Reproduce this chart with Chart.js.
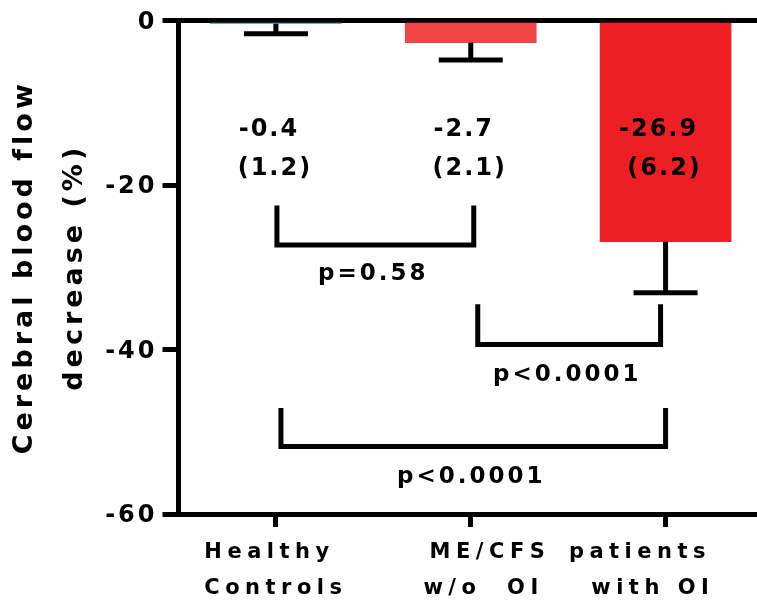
<!DOCTYPE html>
<html><head><meta charset="utf-8">
<script src="https://cdn.jsdelivr.net/npm/chart.js@4.4.1/dist/chart.umd.min.js"></script>
<style>
html,body{margin:0;padding:0;background:#fff;overflow:hidden;width:757px;height:610px}
#wrap{width:757px;height:610px;overflow:hidden;position:relative}
canvas{display:block}
</style>
</head><body><div id="wrap"><canvas id="c" width="770" height="610" style="width:770px;height:610px"></canvas></div>
<script>
// ---- data ----
const categories = ['Healthy Controls', 'ME/CFS patients w/o OI', 'ME/CFS patients with OI'];
const tickLabels = [['Healthy ', 'Controls'], ['   ME/CFS', '  w/o  OI'], ['patients    ', 'with OI  ']];
const means = [-0.4, -2.7, -26.9];
const sds = [1.2, 2.1, 6.2];
const barColors = ['#8497d2', '#ef4545', '#ee1e25'];
const yTicks = [0, -20, -40, -60];
const comparisons = [[0, 1], [1, 2], [0, 2]];
const pLabels = ['p=0.58', 'p<0.0001', 'p<0.0001'];

const FONT = '"DejaVu Sans", "Liberation Sans", Arial, sans-serif';

function wrapDraw(chart, scale, method, spacing) {
  const key = '_ls_' + method;
  if (scale && !scale[key]) {
    const orig = scale[method].bind(scale);
    scale[method] = function (area) {
      const ctx = chart.ctx;
      ctx.save();
      ctx.letterSpacing = spacing;
      orig(area);
      ctx.restore();
    };
    scale[key] = true;
  }
}
function patchScales(c) {
  wrapDraw(c, c.scales.x, 'drawLabels', '5.5px');
  wrapDraw(c, c.scales.y, 'drawLabels', '3px');
  wrapDraw(c, c.scales.y, 'drawTitle', '4px');
}

const spacingPlugin = {
  id: 'spacing',
  afterInit(c) { c.ctx.letterSpacing = '3px'; },
  beforeUpdate(c) { c.ctx.letterSpacing = '3px'; },
  afterLayout(c) { patchScales(c); },
  beforeDraw(c) { c.ctx.letterSpacing = '3px'; patchScales(c); }
};

const errorBarPlugin = {
  id: 'errorBars',
  afterDatasetsDraw(chart) {
    const ctx = chart.ctx, xs = chart.scales.x, ys = chart.scales.y;
    ctx.save();
    ctx.strokeStyle = '#000';
    ctx.lineWidth = 5;
    ctx.lineCap = 'butt';
    means.forEach((m, i) => {
      const x = xs.getPixelForValue(i);
      const y0 = ys.getPixelForValue(m);
      const y1 = ys.getPixelForValue(m - sds[i]);
      ctx.beginPath();
      ctx.moveTo(x, y0); ctx.lineTo(x, y1);
      ctx.moveTo(x - 32, y1); ctx.lineTo(x + 32, y1);
      ctx.stroke();
    });
    ctx.restore();
  }
};

const annotationPlugin = {
  id: 'annotations',
  afterDraw(chart) {
    const ctx = chart.ctx, xs = chart.scales.x, ys = chart.scales.y;
    ctx.save();
    ctx.fillStyle = '#000';
    ctx.textAlign = 'center';
    ctx.textBaseline = 'alphabetic';
    ctx.font = 'bold 24px ' + FONT;
    ctx.letterSpacing = '2px';
    means.forEach((m, i) => {
      const x = xs.getPixelForValue(i);
      ctx.fillText(m.toFixed(1), x - 7, ys.getPixelForValue(-14.1));
      ctx.fillText('(' + sds[i].toFixed(1) + ')', x - 1, ys.getPixelForValue(-18.8));
    });
    // significance brackets: [top, bottom, text baseline] in axis units, plus small pixel insets
    const levels = [[-22.5, -27.3, -31.6], [-34.5, -39.4, -43.8], [-47.1, -51.8, -56.2]];
    const insets = [[1, 3], [7, -5], [5, 0]];
    ctx.strokeStyle = '#000';
    ctx.lineWidth = 5;
    ctx.lineJoin = 'miter';
    ctx.font = 'bold 23px ' + FONT;
    ctx.letterSpacing = '3px';
    comparisons.forEach((cmp, k) => {
      const xa = xs.getPixelForValue(cmp[0]) + insets[k][0];
      const xb = xs.getPixelForValue(cmp[1]) + insets[k][1];
      const yt = ys.getPixelForValue(levels[k][0]);
      const yb = ys.getPixelForValue(levels[k][1]);
      ctx.beginPath();
      ctx.moveTo(xa, yt); ctx.lineTo(xa, yb); ctx.lineTo(xb, yb); ctx.lineTo(xb, yt);
      ctx.stroke();
      ctx.fillText(pLabels[k], (xa + xb) / 2 - 2, ys.getPixelForValue(levels[k][2]));
    });
    ctx.restore();
  }
};

new Chart(document.getElementById('c'), {
  type: 'bar',
  data: {
    labels: categories,
    datasets: [{
      data: means,
      backgroundColor: barColors,
      borderWidth: 0,
      barThickness: 131
    }]
  },
  options: {
    responsive: false,
    animation: false,
    devicePixelRatio: 1,
    layout: { padding: { left: 0, top: 20.5, right: 7, bottom: 0 } },
    plugins: { legend: { display: false }, tooltip: { enabled: false } },
    scales: {
      x: {
        type: 'category',
        offset: true,
        z: 1,
        grid: { display: true, drawOnChartArea: false, offset: false, tickLength: 13, tickWidth: 5, tickColor: '#000', color: '#000' },
        border: { display: true, color: '#000', width: 5 },
        ticks: {
          autoSkip: false, maxRotation: 0, minRotation: 0, padding: 8, color: '#000',
          font: { family: FONT, size: 21, weight: 'bold', lineHeight: 1.714 },
          callback: (v, i) => tickLabels[i]
        },
        afterFit: s => { s.height = 96; }
      },
      y: {
        min: -60, max: 0, z: 1,
        afterBuildTicks: s => { s.ticks = yTicks.map(v => ({ value: v })); },
        grid: {
          drawOnChartArea: true,
          color: c => (c.tick && c.tick.value === 0) ? '#000' : 'rgba(0,0,0,0)',
          lineWidth: 5, tickLength: 16, tickWidth: 5, tickColor: '#000'
        },
        border: { display: true, color: '#000', width: 5 },
        ticks: {
          color: '#000', padding: 5, labelOffset: 2,
          font: { family: FONT, size: 24, weight: 'bold' },
          callback: v => String(v)
        },
        title: {
          display: true, text: ['Cerebral blood flow', 'decrease (%)'], color: '#000',
          font: { family: FONT, size: 27, weight: 'bold', lineHeight: 1.85 }, padding: 0
        },
        afterFit: s => { s.width = 178.5; }
      }
    }
  },
  plugins: [spacingPlugin, errorBarPlugin, annotationPlugin]
});
</script>
</body></html>
